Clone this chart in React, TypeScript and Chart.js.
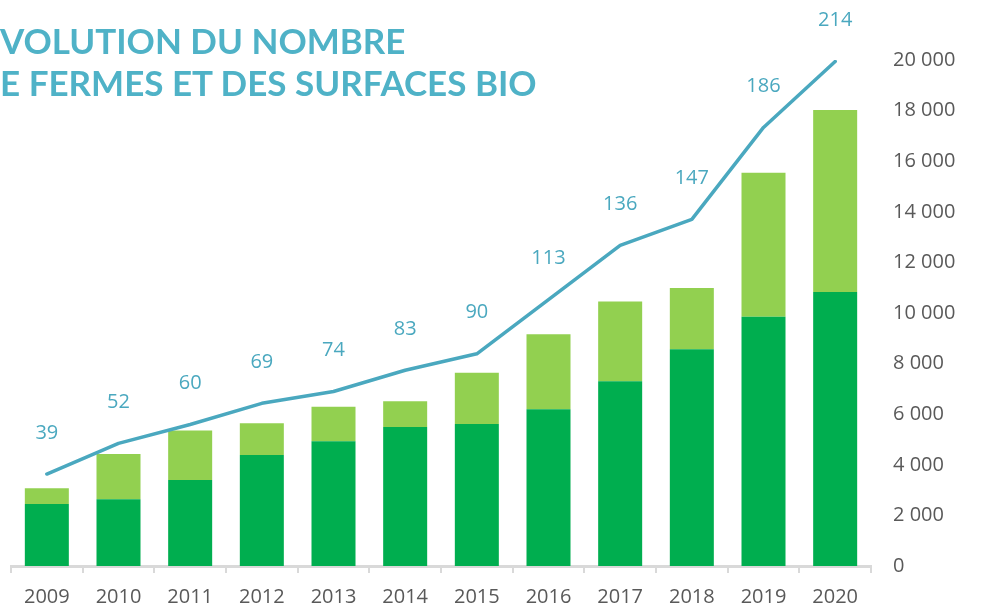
import React, { useEffect, useRef } from "react";
import { Chart, registerables } from "chart.js";

Chart.register(...registerables);

const years = ["2009", "2010", "2011", "2012", "2013", "2014", "2015", "2016", "2017", "2018", "2019", "2020"];
const farms = [39, 52, 60, 69, 74, 83, 90, 113, 136, 147, 186, 214];
const surfacesBio = [2450, 2635, 3400, 4390, 4930, 5490, 5610, 6200, 7300, 8570, 9850, 10830];
const surfacesConversion = [620, 1790, 1960, 1250, 1360, 1020, 2030, 2960, 3150, 2420, 5690, 7190];
const titleLines = ["VOLUTION DU NOMBRE", "E FERMES ET DES SURFACES BIO"];

const TEAL = "#4aa8bf";
const GRAY_TEXT = "#595959";
const FONT = "'Open Sans', sans-serif";

const lineLabels = {
  id: "lineLabels",
  afterDatasetsDraw(chart: any) {
    const ctx = chart.ctx;
    chart.data.datasets.forEach((ds: any, i: number) => {
      if (ds.type !== "line") return;
      const meta = chart.getDatasetMeta(i);
      ctx.save();
      ctx.font = `20px ${FONT}`;
      ctx.fillStyle = TEAL;
      ctx.textAlign = "center";
      ctx.textBaseline = "middle";
      meta.data.forEach((pt: any, j: number) => {
        ctx.fillText(String(ds.data[j]), pt.x, pt.y - 41);
      });
      ctx.restore();
    });
  },
};

export default function App() {
  const ref = useRef<HTMLCanvasElement | null>(null);

  useEffect(() => {
    if (!ref.current) return;
    const chart = new Chart(ref.current, {
      type: "bar",
      data: {
        labels: years,
        datasets: [
          {
            type: "line",
            label: "Fermes",
            data: farms,
            yAxisID: "y2",
            borderColor: TEAL,
            borderWidth: 3.5,
            pointRadius: 0,
            tension: 0,
            borderCapStyle: "round",
            borderJoinStyle: "round",
            order: 0,
          } as any,
          {
            type: "bar",
            label: "Surfaces bio",
            data: surfacesBio,
            yAxisID: "y",
            backgroundColor: "#00ae4f",
            stack: "s",
            categoryPercentage: 0.614,
            barPercentage: 1,
            order: 1,
          },
          {
            type: "bar",
            label: "Surfaces en conversion",
            data: surfacesConversion,
            yAxisID: "y",
            backgroundColor: "#92d050",
            stack: "s",
            categoryPercentage: 0.614,
            barPercentage: 1,
            order: 1,
          },
        ],
      },
      options: {
        responsive: false,
        animation: false,
        layout: { padding: { left: 11, top: 60, right: 0, bottom: 0 } },
        plugins: { legend: { display: false }, tooltip: { enabled: false } },
        scales: {
          x: {
            stacked: true,
            grid: {
              display: true,
              drawOnChartArea: false,
              drawTicks: true,
              tickLength: 7,
              color: "#d9d9d9",
              lineWidth: 2,
              offset: true,
            },
            border: { display: true, color: "#d9d9d9", width: 3 },
            ticks: { color: GRAY_TEXT, font: { size: 20, family: FONT }, padding: 12, maxRotation: 0 },
            afterFit: (s: any) => {
              s.height = 40;
            },
          },
          y: {
            position: "right",
            stacked: true,
            min: 0,
            max: 20000,
            grid: { display: false, drawTicks: false },
            border: { display: false },
            ticks: {
              stepSize: 2000,
              padding: 22,
              color: GRAY_TEXT,
              font: { size: 20, family: FONT },
              callback: (v: any) => {
                const n = Number(v);
                const s = String(n);
                return s.replace(/\B(?=(\d{3})+(?!\d))/g, " ");
              },
            },
            afterFit: (s: any) => {
              s.width = 111;
            },
          },
          y2: {
            display: false,
            min: 0,
            max: 214.6,
          },
        },
      },
      plugins: [lineLabels],
    });
    return () => chart.destroy();
  }, []);

  return (
    <div style={{ position: "fixed", left: 0, top: 0, width: 982, height: 606, background: "#fff", overflow: "hidden" }}>
      <canvas ref={ref} width={982} height={606} style={{ position: "absolute", left: 0, top: 0 }} />
      {titleLines.map((t, i) => (
        <div
          key={i}
          style={{
            position: "absolute",
            left: 0,
            top: i === 0 ? 19 : 60.5,
            fontFamily: "Lato, sans-serif",
            fontWeight: 700,
            fontSize: 35,
            lineHeight: "42px",
            color: "#4fb2c7",
            whiteSpace: "nowrap",
          }}
        >
          {t}
        </div>
      ))}
    </div>
  );
}
